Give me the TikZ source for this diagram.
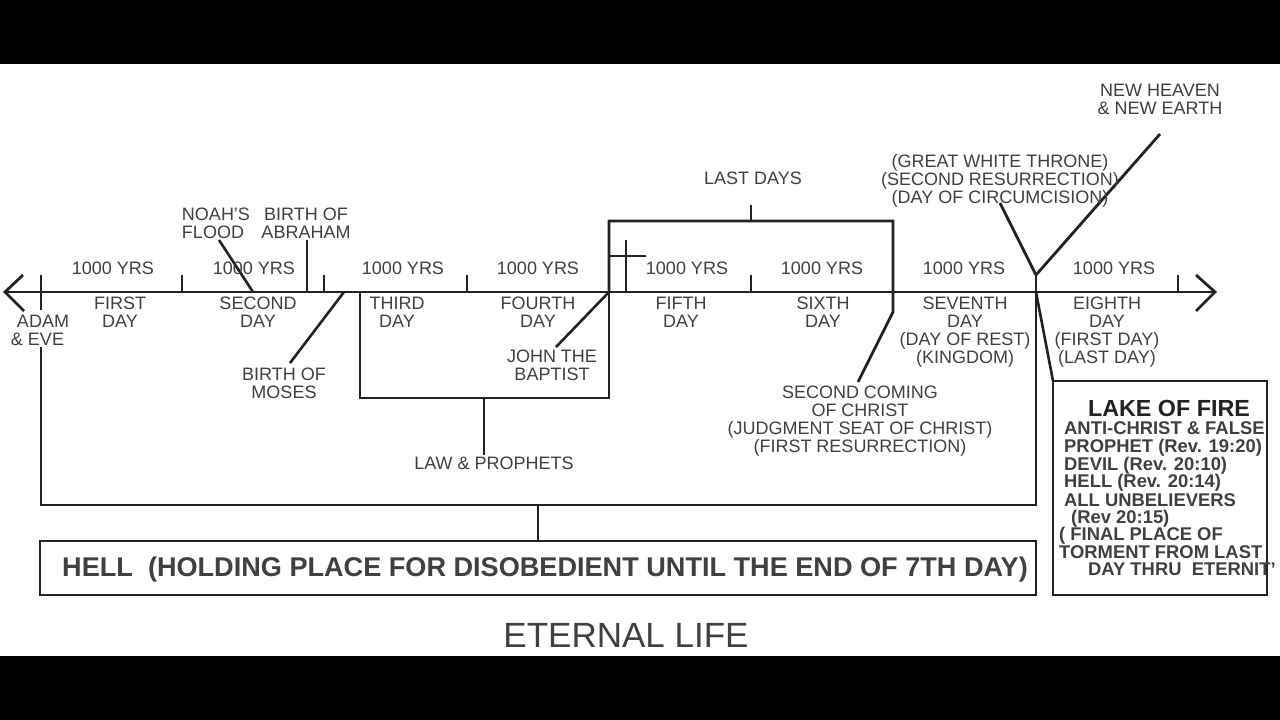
\documentclass[tikz,border=0pt]{standalone}
\usepackage{fontspec}
\setmainfont{Liberation Sans}
\usetikzlibrary{positioning}

\definecolor{inkline}{HTML}{222222}
\definecolor{inktext}{HTML}{404040}

\tikzset{
    rule/.style={line width=2.8pt, draw=inkline},
    thinrule/.style={line width=2.6pt, draw=inkline},
    lbl/.style={font=\fontsize{18}{18}\selectfont, align=center, inner sep=0pt, text=inktext},
    lakeline/.style={font=\fontsize{18.4}{18}\bfseries\selectfont, anchor=west, inner sep=0pt, text=inktext}
}

\begin{document}
\begin{tikzpicture}[x=1pt, y=-1pt]
    % Page with black bands
    \fill [black] (0, 0) rectangle (1280, 720);
    \fill [white] (0, 64) rectangle (1280, 656);
    \useasboundingbox (0, 0) rectangle (1280, 720);

    % Points on the axis
    \coordinate (axisL) at (5, 292);
    \coordinate (axisR) at (1215, 292);
    \coordinate (adam) at (41, 292);
    \coordinate (noah) at (253, 292);
    \coordinate (abraham) at (307, 292);
    \coordinate (moses) at (344, 292);
    \coordinate (lawL) at (360, 292);
    \coordinate (john) at (609, 292);
    \coordinate (cross) at (626, 292);
    \coordinate (coming) at (893, 292);
    \coordinate (judge) at (1036, 292);

    % Axis and drawn arrow ends
    \draw [rule] (axisL) -- (axisR);
    \draw [rule] (23, 275) -- (axisL) -- (24, 311);
    \draw [rule] (1196, 275) -- (axisR) -- (1196, 311);

    % Ticks
    \draw [thinrule] (41, 275) -- (adam) -- (41, 310);
    \foreach \tickx in {182, 324, 467, 751, 1178} {
        \draw [thinrule] (\tickx, 275) -- (\tickx, 292);
    }

    % Events
    \draw [thinrule] (219, 240) -- (noah);
    \draw [thinrule] (abraham) -- (307, 240);
    \draw [thinrule] (moses) -- (290, 363);
    \draw [thinrule] (john) -- (556, 347);
    \draw [thinrule] (626, 240) -- (cross);
    \draw [thinrule] (609, 256) -- (646, 256);

    % Law and prophets bracket
    \draw [rule] (lawL) -- (360, 398) -- (609, 398) -- (john);
    \draw [rule] (484, 398) -- (484, 455);

    % Last days bracket, second coming
    \draw [rule] (john) -- (609, 221) -- (893, 221) -- (coming) -- (893, 312) -- (858, 382);
    \draw [thinrule] (751, 205) -- (751, 221);

    % Branches at the end of the seventh day
    \draw [rule] (1000, 203) -- (1036, 275) -- (1160, 134);
    \draw [rule] (1036, 275) -- (judge) -- (1036, 505) -- (41, 505) -- (41, 347);
    \draw [rule] (538, 505) -- (538, 541);
    \draw [thinrule] (judge) -- (1053, 381);

    % Boxes
    \draw [rule] (40, 541) rectangle (1036, 595);
    \draw [rule] (1053, 381) rectangle (1267, 595);

    % Thousand year spans
    \foreach \spanx in {113, 254, 403, 538, 687, 822, 964, 1114} {
        \node [lbl] at (\spanx, 268) {1000 YRS};
    }

    % Days
    \node [lbl] (first) at (120, 312) {FIRST\\DAY};
    \node [lbl] (second) at (258, 312) {SECOND\\DAY};
    \node [lbl] (third) at (397, 312) {THIRD\\DAY};
    \node [lbl] (fourth) at (538, 312) {FOURTH\\DAY};
    \node [lbl] (fifth) at (681, 312) {FIFTH\\DAY};
    \node [lbl] (sixth) at (823, 312) {SIXTH\\DAY};
    \node [lbl] (seventh) at (965, 332) {SEVENTH\\DAY\\(DAY OF REST)\\(KINGDOM)};
    \node [lbl] (eighth) at (1107, 332) {EIGHTH\\DAY\\(FIRST DAY)\\(LAST DAY)};

    % Event labels
    \node [lbl, align=left] (adamlbl) at (40, 330) {\hspace*{6pt}ADAM\\\& EVE};
    \node [lbl, align=left] (noahlbl) at (216, 223) {NOAH'S\\FLOOD};
    \node [lbl] (abrahamlbl) at (306, 223) {BIRTH OF\\ABRAHAM};
    \node [lbl] (moseslbl) at (284, 383) {BIRTH OF\\MOSES};
    \node [lbl] (johnlbl) at (552, 365) {JOHN THE\\BAPTIST};
    \node [lbl] (lawlbl) at (494, 463) {LAW \& PROPHETS};
    \node [lbl] (lastdays) at (753, 178) {LAST DAYS};
    \node [lbl] (cominglbl) at (860, 421) {SECOND COMING\\OF CHRIST\\(JUDGMENT SEAT OF CHRIST)\\(FIRST RESURRECTION)};
    \node [lbl] (thronelbl) at (1000, 181) {(GREAT WHITE THRONE)\\(SECOND RESURRECTION)\\(DAY OF CIRCUMCISION)};
    \node [lbl] (heavenlbl) at (1160, 99) {NEW HEAVEN\\\& NEW EARTH};

    % Box texts
    \node [inner sep=0pt, text=inktext, font=\fontsize{27.1}{27}\bfseries\selectfont] (hell) at (545, 569) {HELL\ \ (HOLDING PLACE FOR DISOBEDIENT UNTIL THE END OF 7TH DAY)};
    \node [inner sep=0pt, text=inkline, font=\fontsize{23.3}{23}\bfseries\selectfont] (lake) at (1169, 408) {LAKE OF FIRE};
    \node [lakeline] (lake1) at (1064, 428) {ANTI-CHRIST \& FALSE};
    \node [lakeline] (lake2) at (1064, 448) {PROPHET (Rev. 19:20)};
    \node [lakeline] (lake3) at (1064, 466) {DEVIL (Rev. 20:10)};
    \node [lakeline] (lake4) at (1064, 483) {HELL (Rev. 20:14)};
    \node [lakeline] (lake5) at (1064, 500) {ALL UNBELIEVERS};
    \node [lakeline] (lake6) at (1071, 519) {(Rev 20:15)};
    \node [lakeline] (lake7) at (1059, 536) {( FINAL PLACE OF};
    \node [lakeline] (lake8) at (1059, 552) {TORMENT FROM LAST};
    \node [lakeline] (lake9) at (1088, 569) {DAY THRU\ \ ETERNIT'};

    % Bottom line
    \node [inner sep=0pt, text=inktext, font=\fontsize{35}{35}\selectfont] (eternal) at (626, 635) {ETERNAL LIFE};
\end{tikzpicture}
\end{document}
